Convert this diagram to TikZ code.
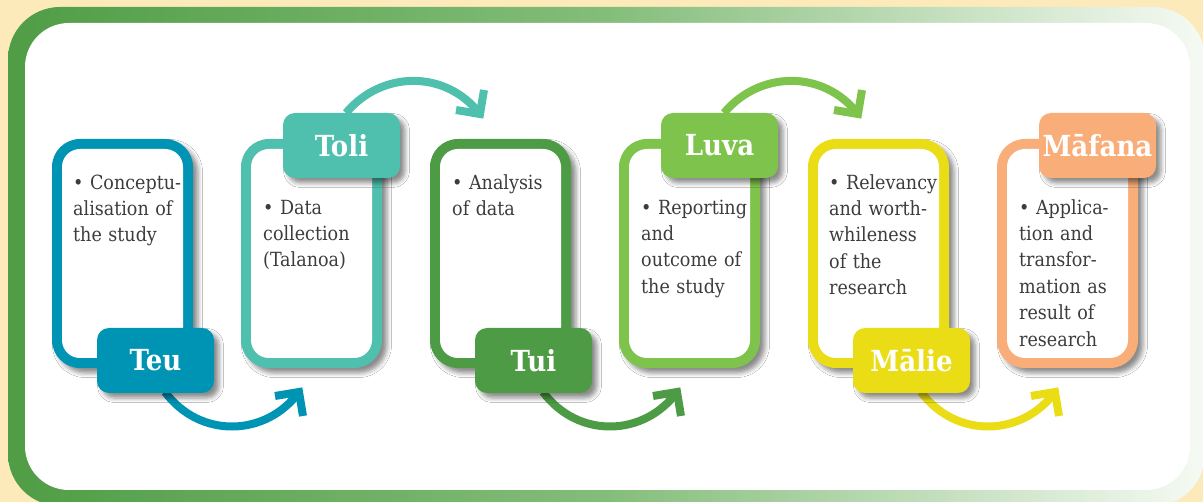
\documentclass[tikz,border=0pt]{standalone}
\usepackage{fontspec}
\setmainfont{DejaVu Serif Condensed}
\usetikzlibrary{shadows.blur}

\definecolor{cream}{RGB}{253,234,187}
\definecolor{frameL}{RGB}{80,157,70}
\definecolor{frameM}{RGB}{132,189,122}
\definecolor{frameR}{RGB}{246,250,244}
\definecolor{cTeu}{RGB}{0,148,180}
\definecolor{cToli}{RGB}{79,192,174}
\definecolor{cTui}{RGB}{77,156,69}
\definecolor{cLuva}{RGB}{126,195,75}
\definecolor{cMalie}{RGB}{235,221,21}
\definecolor{cMafana}{RGB}{249,174,122}
\definecolor{bodygrey}{RGB}{60,60,60}

\begin{document}
\begin{tikzpicture}[x=1pt,y=-1pt,
  softshadow/.style={blur shadow={shadow xshift=5pt, shadow yshift=-5pt,
      shadow blur radius=4.5pt, shadow opacity=45}},
  outerbox/.style={fill=#1, rounded corners=28pt, minimum width=141pt,
      minimum height=229pt, inner sep=0pt, softshadow},
  innerbox/.style={fill=white, rounded corners=18pt, minimum width=121pt,
      minimum height=209pt, inner sep=0pt},
  tag/.style={fill=#1, rounded corners=12pt, minimum width=117pt,
      minimum height=65pt, inner sep=0pt, text=white,
      font=\fontsize{29}{30}\selectfont\bfseries, softshadow},
  body/.style={anchor=north west, inner sep=0pt, text width=118pt,
      align=left, text=bodygrey, font=\fontsize{19.5}{26.4}\selectfont},
  shaft/.style={draw=#1, line width=8pt, line cap=butt},
  barb/.style={draw=#1, line width=8pt, line cap=butt, line join=miter},
]
\useasboundingbox (0,0) rectangle (1203,502);
\fill[cream] (0,0) rectangle (1203,502);

% gradient frame and white panel
\shade[left color=frameL, right color=frameR, middle color=frameM,
       rounded corners=52pt] (8,7) rectangle (1205,506);
\fill[white, rounded corners=44pt] (25,23) rectangle (1190,490);

% coloured outlines of the six stages
\node[outerbox=cTeu]    (f1) at (122.5,253.5) {};
\node[innerbox]         (g1) at (122.5,253.5) {};
\node[outerbox=cToli]   (f2) at (311.5,253.5) {};
\node[innerbox]         (g2) at (311.5,253.5) {};
\node[outerbox=cTui]    (f3) at (500.5,253.5) {};
\node[innerbox]         (g3) at (500.5,253.5) {};
\node[outerbox=cLuva]   (f4) at (689.5,253.5) {};
\node[innerbox]         (g4) at (689.5,253.5) {};
\node[outerbox=cMalie]  (f5) at (878.5,253.5) {};
\node[innerbox]         (g5) at (878.5,253.5) {};
\node[outerbox=cMafana] (f6) at (1067.5,253.5) {};
\node[innerbox]         (g6) at (1067.5,253.5) {};

% descriptions
\node[body] (d1) at (73,170.5)   {\strut• Conceptu-\\alisation of\\the study};
\node[body] (d2) at (263,195.5)  {\strut• Data\\collection\\(Talanoa)};
\node[body] (d3) at (452,170.5)  {\strut• Analysis\\of data};
\node[body] (d4) at (641,195.5)  {\strut• Reporting\\and\\outcome of\\the study};
\node[body] (d5) at (829,170.5)  {\strut• Relevancy\\and worth-\\whileness\\of the\\research};
\node[body] (d6) at (1019,195.5) {\strut• Applica-\\tion and\\transfor-\\mation as\\result of\\research};

% arrow tips
\coordinate (e1) at (299,392);
\coordinate (e2) at (480,114);
\coordinate (e3) at (677,392);
\coordinate (e4) at (858,114);
\coordinate (e5) at (1055,392);

% tag positions (arrows start under them)
\coordinate (p1) at (155.5,360.5);
\coordinate (p2) at (341.5,145.5);
\coordinate (p3) at (533.5,360.5);
\coordinate (p4) at (719.5,145.5);
\coordinate (p5) at (911.5,360.5);
\coordinate (p6) at (1097.5,145.5);

% curved arrows between the stages
\draw[shaft=cTeu]   ([xshift=9.5pt,yshift=1pt]p1 |- 0,393) .. controls +(35,47) and +(-33,45) .. (e1);
\draw[barb=cTeu]    (e1) ++(-24,4) -- (e1) -- ++(4,24);
\draw[shaft=cToli]  ([xshift=4.5pt]p2 |- 0,113) .. controls +(35,-42) and +(-35,-45) .. (e2);
\draw[barb=cToli]   (e2) ++(4,-24) -- (e2) -- ++(-24,-4);
\draw[shaft=cTui]   ([xshift=9.5pt,yshift=1pt]p3 |- 0,393) .. controls +(35,47) and +(-33,45) .. (e3);
\draw[barb=cTui]    (e3) ++(-24,4) -- (e3) -- ++(4,24);
\draw[shaft=cLuva]  ([xshift=4.5pt]p4 |- 0,113) .. controls +(35,-42) and +(-35,-45) .. (e4);
\draw[barb=cLuva]   (e4) ++(4,-24) -- (e4) -- ++(-24,-4);
\draw[shaft=cMalie] ([xshift=9.5pt,yshift=1pt]p5 |- 0,393) .. controls +(35,47) and +(-33,45) .. (e5);
\draw[barb=cMalie]  (e5) ++(-24,4) -- (e5) -- ++(4,24);

% stage names
\node[tag=cTeu]    (t1) at (p1) {Teu};
\node[tag=cToli]   (t2) at (p2) {Toli};
\node[tag=cTui]    (t3) at (p3) {Tui};
\node[tag=cLuva]   (t4) at (p4) {Luva};
\node[tag=cMalie]  (t5) at (p5) {Mālie};
\node[tag=cMafana] (t6) at (p6) {Māfana};
\end{tikzpicture}
\end{document}
